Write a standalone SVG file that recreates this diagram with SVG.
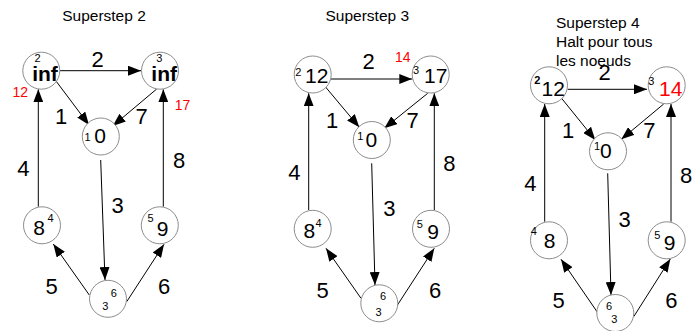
<svg xmlns="http://www.w3.org/2000/svg" width="693" height="331" viewBox="0 0 693 331">
<defs>
<style>
text{font-family:"Liberation Sans",Arial,sans-serif;fill:#000}
.t{font-size:15.5px}
.c{text-anchor:middle}
.nd circle{fill:#fff;stroke:#8c8c8c;stroke-width:1}
.v{font-size:21px;text-anchor:middle}
.s{font-size:11px;text-anchor:middle}
.l{font-size:22px;text-anchor:middle}
.r{font-size:14px;text-anchor:middle;fill:#ff0000}
.e line{stroke:#000;stroke-width:1;marker-end:url(#ah)}
</style>
<marker id="ah" viewBox="0 0 13 10" refX="13" refY="5" markerWidth="13" markerHeight="10" orient="auto" markerUnits="userSpaceOnUse"><path d="M0,0 L13,5 L0,10 z" fill="#000"/></marker>
</defs>
<rect width="693" height="331" fill="#fff"/>

<!-- Panel 1 -->
<text class="t c" x="104" y="20.5">Superstep 2</text>
<g id="p1-edges" class="e">
<line x1="60" y1="70.7" x2="141" y2="70.7"/>
<line x1="53" y1="77" x2="89" y2="125"/>
<line x1="156.7" y1="89" x2="112.7" y2="126"/>
<line x1="38.3" y1="206.7" x2="38.3" y2="89.3"/>
<line x1="163.3" y1="206.7" x2="163.3" y2="89.3"/>
<line x1="100.7" y1="160" x2="105" y2="280"/>
<line x1="89.3" y1="295" x2="53.3" y2="244"/>
<line x1="126.7" y1="301.7" x2="164" y2="244.3"/>
</g>
<g id="p1-labels">
<text class="l" x="97.7" y="67">2</text>
<text class="l" x="61" y="124">1</text>
<text class="l" x="141.7" y="124">7</text>
<text class="l" x="23.3" y="176">4</text>
<text class="l" x="179" y="168">8</text>
<text class="l" x="117.7" y="213">3</text>
<text class="l" x="51.7" y="294">5</text>
<text class="l" x="164" y="294">6</text>
<text class="r" x="20.3" y="96.5">12</text>
<text class="r" x="182.5" y="110">17</text>
</g>
<g id="p1-n2" class="nd"><circle cx="41.3" cy="70.7" r="18.5"/><text class="s" x="37.5" y="62">2</text><text class="v" x="45" y="81" font-weight="bold">inf</text></g>
<g id="p1-n3" class="nd"><circle cx="160" cy="70.7" r="18.5"/><text class="s" x="159.3" y="62">3</text><text class="v" x="164.2" y="81" font-weight="bold">inf</text></g>
<g id="p1-n1" class="nd"><circle cx="100.8" cy="136.5" r="18.5"/><text class="s" x="87.5" y="141">1</text><text class="v" x="100.2" y="143">0</text></g>
<g id="p1-n4" class="nd"><circle cx="42" cy="225.3" r="18.5"/><text class="v" x="39.2" y="235" font-size="22">8</text><text class="s" x="50.5" y="221.7" font-size="12">4</text></g>
<g id="p1-n5" class="nd"><circle cx="159.8" cy="225.3" r="18.5"/><text class="s" x="150.5" y="221.7" font-size="12">5</text><text class="v" x="162.5" y="236" font-size="22">9</text></g>
<g id="p1-n6" class="nd"><circle cx="108" cy="298.8" r="18.5"/><text class="s" x="113.7" y="296.7" font-size="13">6</text><text class="s" x="105.2" y="310" font-size="15">3</text></g>

<!-- Panel 2 -->
<text class="t c" x="367.3" y="20.5">Superstep 3</text>
<g id="p2-edges" class="e">
<line x1="331" y1="79" x2="412.3" y2="79"/>
<line x1="325.3" y1="86.7" x2="359.3" y2="127.3"/>
<line x1="427.7" y1="93.3" x2="384.3" y2="128.3"/>
<line x1="308.7" y1="210" x2="308.7" y2="93.3"/>
<line x1="434.3" y1="210" x2="434.3" y2="93.3"/>
<line x1="371.7" y1="163.3" x2="375" y2="285"/>
<line x1="361" y1="298.3" x2="326" y2="248.3"/>
<line x1="397" y1="305.7" x2="434.3" y2="248.3"/>
</g>
<g id="p2-labels">
<text class="l" x="368.7" y="69">2</text>
<text class="l" x="332" y="128">1</text>
<text class="l" x="412.7" y="128">7</text>
<text class="l" x="294.3" y="180">4</text>
<text class="l" x="449.3" y="170.5">8</text>
<text class="l" x="389.3" y="216">3</text>
<text class="l" x="322.7" y="297.7">5</text>
<text class="l" x="435" y="297.7">6</text>
<text class="r" x="402.8" y="62.3">14</text>
</g>
<g id="p2-n2" class="nd"><circle cx="312.7" cy="74.5" r="18.5"/><text class="s" x="298.2" y="76">2</text><text class="v" x="316.7" y="83.3">12</text></g>
<g id="p2-n3" class="nd"><circle cx="430.7" cy="74.5" r="18.5"/><text class="s" x="416" y="74">3</text><text class="v" x="435.8" y="83.3">17</text></g>
<g id="p2-n1" class="nd"><circle cx="371.8" cy="140" r="18.5"/><text class="s" x="360.3" y="140">1</text><text class="v" x="371.3" y="146.5">0</text></g>
<g id="p2-n4" class="nd"><circle cx="312.7" cy="228.8" r="18.5"/><text class="v" x="309.3" y="238.3">8</text><text class="s" x="318.5" y="226.7">4</text></g>
<g id="p2-n5" class="nd"><circle cx="431" cy="228.8" r="18.5"/><text class="s" x="419.8" y="227.7">5</text><text class="v" x="433" y="239">9</text></g>
<g id="p2-n6" class="nd"><circle cx="379.3" cy="303.3" r="18.5"/><text class="s" x="383" y="300" font-size="12">6</text><text class="s" x="378.5" y="316" font-size="14">3</text></g>

<!-- Panel 3 -->
<text class="t" x="556" y="27.5">Superstep 4</text>
<text class="t" x="556" y="46.5">Halt pour tous</text>
<text class="t" x="556" y="65.5">les noeuds</text>
<g id="p3-edges" class="e">
<line x1="567.7" y1="89.3" x2="647" y2="89.3"/>
<line x1="560.3" y1="96.7" x2="595.3" y2="140"/>
<line x1="663.7" y1="104" x2="621.3" y2="139.3"/>
<line x1="544.7" y1="221.7" x2="544.7" y2="104"/>
<line x1="671" y1="221.7" x2="671" y2="104"/>
<line x1="607.7" y1="173.3" x2="611" y2="295"/>
<line x1="597" y1="311.7" x2="561" y2="259.3"/>
<line x1="633.7" y1="316.7" x2="670.3" y2="259"/>
</g>
<g id="p3-labels">
<text class="l" x="604.7" y="80">2</text>
<text class="l" x="568" y="138">1</text>
<text class="l" x="649.3" y="138">7</text>
<text class="l" x="530.3" y="190.7">4</text>
<text class="l" x="686" y="182.7">8</text>
<text class="l" x="624.7" y="226.7">3</text>
<text class="l" x="558.7" y="308">5</text>
<text class="l" x="671.3" y="308">6</text>
</g>
<g id="p3-n2" class="nd"><circle cx="549" cy="85.3" r="18.5"/><text class="s" x="537.3" y="84.3" font-size="12" font-weight="bold">2</text><text class="v" x="553.3" y="96" font-size="22">12</text></g>
<g id="p3-n3" class="nd"><circle cx="666.7" cy="85.3" r="18.5"/><text class="s" x="651.2" y="85">3</text><text class="v" x="670.8" y="95.7" style="fill:#ff0000">14</text></g>
<g id="p3-n1" class="nd"><circle cx="608" cy="151.3" r="18.5"/><text class="s" x="597" y="150">1</text><text class="v" x="605.8" y="158.3" font-size="22">0</text></g>
<g id="p3-n4" class="nd"><circle cx="549" cy="240.3" r="18.5"/><text class="s" x="533.7" y="235" font-size="10">4</text><text class="v" x="549.5" y="247.5">8</text></g>
<g id="p3-n5" class="nd"><circle cx="666.7" cy="240.3" r="18.5"/><text class="s" x="657.2" y="239">5</text><text class="v" x="669.5" y="250">9</text></g>
<g id="p3-n6" class="nd"><circle cx="615.3" cy="313" r="18.5"/><text class="s" x="609" y="310" font-size="12">6</text><text class="s" x="614.3" y="323.3" font-size="14">3</text></g>
</svg>
